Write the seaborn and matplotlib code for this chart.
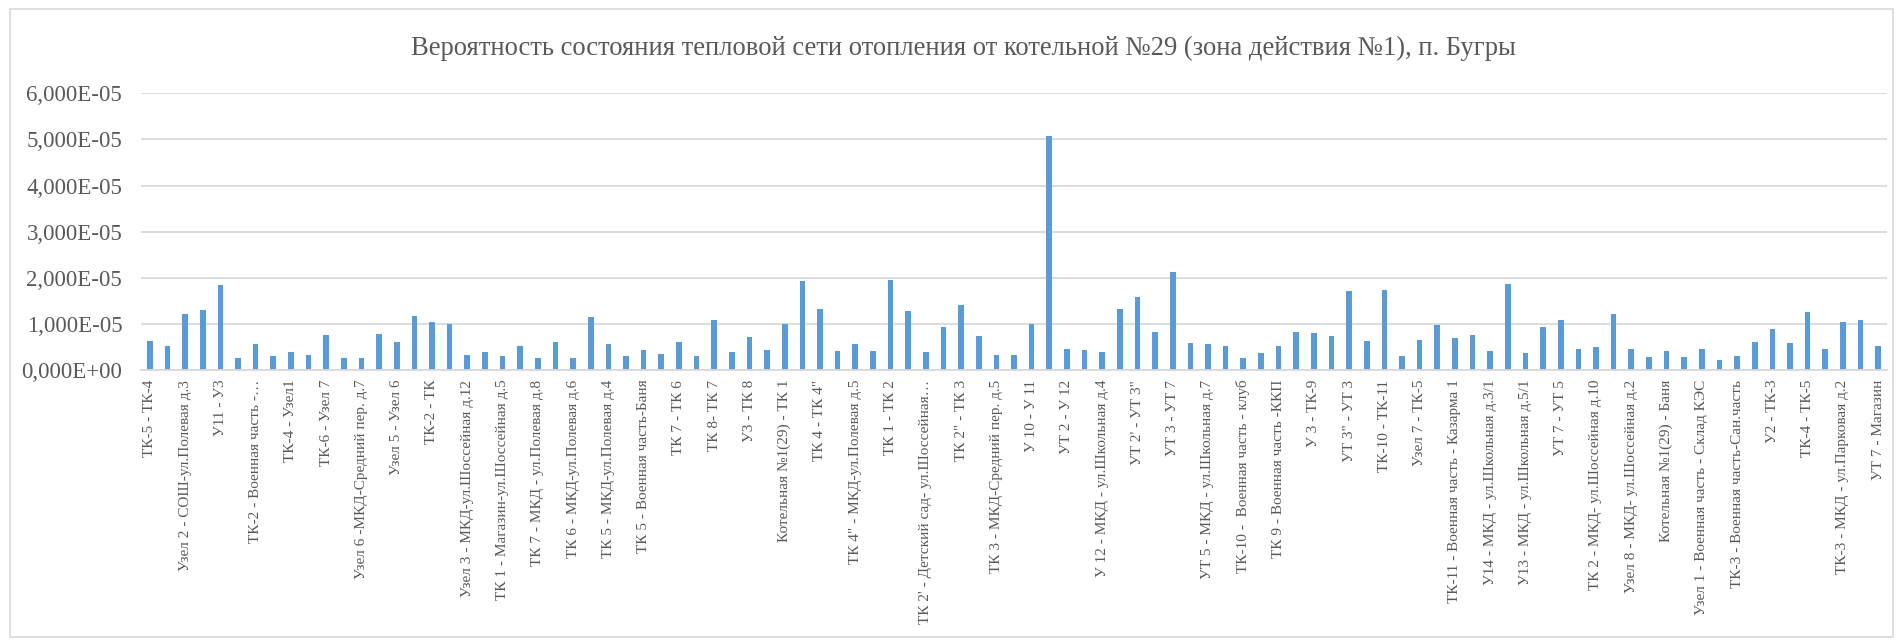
import matplotlib
matplotlib.use("Agg")
import matplotlib.pyplot as plt
import matplotlib.ticker as mticker
from matplotlib.patches import Rectangle
import seaborn as sns
import pandas as pd

title = "Вероятность состояния тепловой сети отопления от котельной №29 (зона действия №1), п. Бугры"

# value of each of the 99 pipeline segments (probability)
probability = [
    0.63e-5, 0.51e-5, 1.21e-5, 1.30e-5, 1.85e-5, 0.25e-5, 0.57e-5, 0.30e-5, 0.38e-5, 0.33e-5,
    0.75e-5, 0.26e-5, 0.26e-5, 0.77e-5, 0.60e-5, 1.17e-5, 1.05e-5, 1.00e-5, 0.33e-5, 0.38e-5,
    0.30e-5, 0.53e-5, 0.27e-5, 0.60e-5, 0.27e-5, 1.14e-5, 0.56e-5, 0.30e-5, 0.43e-5, 0.35e-5,
    0.61e-5, 0.30e-5, 1.09e-5, 0.39e-5, 0.71e-5, 0.44e-5, 0.99e-5, 1.94e-5, 1.33e-5, 0.42e-5,
    0.57e-5, 0.41e-5, 1.96e-5, 1.28e-5, 0.39e-5, 0.93e-5, 1.41e-5, 0.74e-5, 0.33e-5, 0.33e-5,
    0.99e-5, 5.08e-5, 0.46e-5, 0.43e-5, 0.38e-5, 1.33e-5, 1.58e-5, 0.82e-5, 2.12e-5, 0.58e-5,
    0.57e-5, 0.52e-5, 0.26e-5, 0.36e-5, 0.52e-5, 0.83e-5, 0.80e-5, 0.73e-5, 1.71e-5, 0.62e-5,
    1.74e-5, 0.30e-5, 0.64e-5, 0.98e-5, 0.69e-5, 0.75e-5, 0.41e-5, 1.86e-5, 0.36e-5, 0.93e-5,
    1.08e-5, 0.46e-5, 0.49e-5, 1.22e-5, 0.46e-5, 0.28e-5, 0.41e-5, 0.29e-5, 0.45e-5, 0.22e-5,
    0.30e-5, 0.61e-5, 0.89e-5, 0.58e-5, 1.26e-5, 0.45e-5, 1.04e-5, 1.08e-5, 0.53e-5,
]
segment = list(range(len(probability)))

# labels shown on the axis (every second segment)
tick_labels = [
    "ТК-5 - ТК-4",
    "Узел 2 - СОШ-ул.Полевая д.3",
    "У11 - У3",
    "ТК-2 - Военная часть -…",
    "ТК-4 - Узел1",
    "ТК-6 - Узел 7",
    "Узел 6 -МКД-Средний пер. д.7",
    "Узел 5 - Узел 6",
    "ТК-2 - ТК",
    "Узел 3 - МКД-ул.Шоссейная д.12",
    "ТК 1 - Магазин-ул.Шоссейная д.5",
    "ТК 7 - МКД - ул.Полевая д.8",
    "ТК 6 - МКД-ул.Полевая д.6",
    "ТК 5 - МКД-ул.Полевая д.4",
    "ТК 5 - Военная часть-Баня",
    "ТК 7 - ТК 6",
    "ТК 8- ТК 7",
    "У3 - ТК 8",
    "Котельная №1(29) - ТК 1",
    "ТК 4 - ТК 4\"",
    "ТК 4\" - МКД-ул.Полевая д.5",
    "ТК 1 - ТК 2",
    "ТК 2' - Детский сад- ул.Шоссейная…",
    "ТК 2\" - ТК 3",
    "ТК 3 - МКД-Средний пер. д.5",
    "У 10 - У 11",
    "УТ 2 - У 12",
    "У 12 - МКД - ул.Школьная д.4",
    "УТ 2' - УТ 3\"",
    "УТ 3 - УТ 7",
    "УТ 5 - МКД - ул.Школьная д.7",
    "ТК-10 -  Военная часть - клуб",
    "ТК 9 - Военная часть -ККП",
    "У 3 - ТК-9",
    "УТ 3\" - УТ 3",
    "ТК-10 - ТК-11",
    "Узел 7 - ТК-5",
    "ТК-11 - Военная часть - Казарма 1",
    "У14 - МКД - ул.Школьная д.3/1",
    "У13 - МКД - ул.Школьная д.5/1",
    "УТ 7 - УТ 5",
    "ТК 2 - МКД- ул.Шоссейная д.10",
    "Узел 8 - МКД- ул.Шоссейная д.2",
    "Котельная №1(29) - Баня",
    "Узел 1 - Военная часть - Склад КЭС",
    "ТК-3 - Военная часть-Сан.часть",
    "У2 - ТК-3",
    "ТК-4 - ТК-5",
    "ТК-3 - МКД - ул.Парковая д.2",
    "УТ 7 - Магазин",
]

df = pd.DataFrame({"segment": segment, "probability": probability})

sns.set_theme(style="white")
plt.rcParams["font.family"] = ["Liberation Serif", "DejaVu Serif"]

W, H = 1899, 640
fig = plt.figure(figsize=(W / 100, H / 100), dpi=100)
fig.patch.set_facecolor("white")

left, right, top, bottom = 141, 1887, 93.3, 370
ax = fig.add_axes([left / W, 1 - bottom / H, (right - left) / W, (bottom - top) / H])

sns.barplot(data=df, x="segment", y="probability", ax=ax, color="#5B9BD5",
            saturation=1, width=0.32, order=segment, linewidth=0)

ax.set_ylim(0, 6e-5)
ax.set_xlim(-0.5, len(segment) - 0.5)
ax.yaxis.set_major_locator(mticker.MultipleLocator(1e-5))
ax.yaxis.set_major_formatter(mticker.FuncFormatter(lambda v, p: f"{v:.3E}".replace(".", ",")))
ax.yaxis.grid(True, color="#D9D9D9", linewidth=1.3)
ax.set_axisbelow(True)

ax.set_xticks(segment[::2])
ax.set_xticklabels(tick_labels, rotation=90, fontsize=11, color="#595959", va="top", ha="center")
ax.tick_params(axis="x", length=0, pad=7)
ax.tick_params(axis="y", length=0, pad=13.5, labelsize=16.5, labelcolor="#595959")
ax.set_xlabel("")
ax.set_ylabel("")
for s in ["left", "right", "top"]:
    ax.spines[s].set_visible(False)
ax.spines["bottom"].set_color("#D9D9D9")
ax.spines["bottom"].set_linewidth(1.3)

fig.text(963 / W, 1 - 48 / H, title, ha="center", va="center", fontsize=19.2, color="#595959")

fig.patches.append(Rectangle((10 / W, 3 / H), 1883 / W, 628 / H, transform=fig.transFigure,
                             fill=False, edgecolor="#D9D9D9", linewidth=1.2))

fig.savefig("out.png", dpi=100, facecolor="white")
